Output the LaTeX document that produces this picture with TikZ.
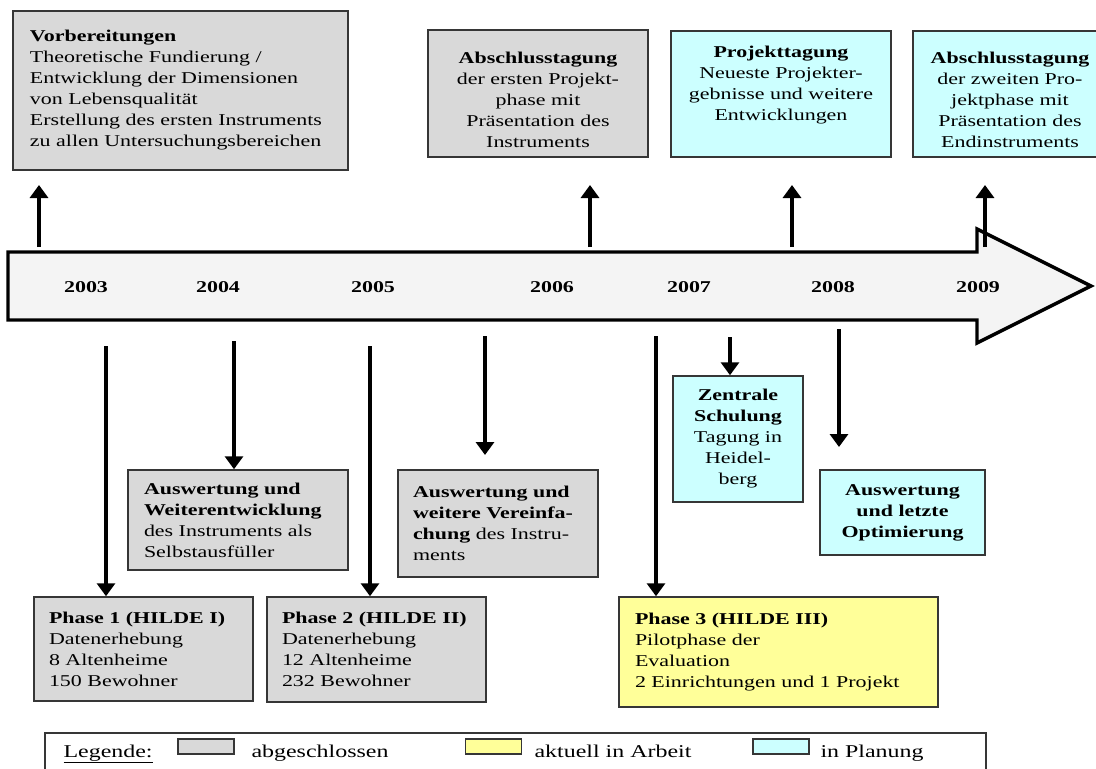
\documentclass[tikz,border=0pt]{standalone}
\usepackage{fontspec}
\setmainfont[FakeStretch=1.33]{Liberation Serif}
\usetikzlibrary{arrows.meta}
\definecolor{done}{HTML}{D9D9D9}
\definecolor{plan}{HTML}{CCFFFF}
\definecolor{work}{HTML}{FFFF99}
\definecolor{tlfill}{HTML}{F4F4F4}
\definecolor{boxline}{HTML}{363636}

\begin{document}
\begin{tikzpicture}[x=1pt,y=-1pt,>={Triangle[length=13pt,width=18pt]},
    box/.style={draw=boxline,line width=1.5pt,inner xsep=0pt,inner ysep=0pt,font=\fontsize{16.5}{21}\selectfont},
    lbox/.style={box,align=left},
    cbox/.style={box,align=center},
    pfeil/.style={->,line width=3.5pt},
    year/.style={font=\bfseries\fontsize{16.5}{20}\selectfont},
    legtext/.style={anchor=base west,font=\fontsize{18}{22}\selectfont},
    swatch/.style={draw=boxline,line width=1.2pt,minimum width=56pt,minimum height=15pt,inner sep=0pt}]
            \useasboundingbox (0,0) rectangle (1096,769);
            \clip (0,0) rectangle (1096,769);
            %%%%%%%%%%%%%%%%%%%%%%%%%%%%%%%%%%%%%%%%%% Zeitstrahl
            \draw[line width=3.4pt,fill=tlfill] (8,252) -- (977,252) -- (977,229) -- (1091,286)
                -- (977,343) -- (977,320) -- (8,320) -- cycle;
            \foreach \x/\j in {86/2003,218/2004,373/2005,552/2006,689/2007,833/2008,978/2009}
            {
                \node[year] (y\j) at (\x,287) {\j};
            }
            %%%%%%%%%%%%%%%%%%%%%%%%%%%%%%%%%%%%%%%%%% obere Kaesten
            \node[lbox,fill=done,minimum width=335,minimum height=159,text width=301] (vorb) at (180.5,90.5)
                {\textbf{Vorbereitungen}\\Theoretische Fundierung /\\Entwicklung der Dimensionen\\von Lebensqualität\\Erstellung des ersten Instruments\\zu allen Untersuchungsbereichen};
            \node[cbox,fill=done,minimum width=220,minimum height=127] (abs1) at (538,93.5)
                {\rule{0pt}{24pt}\textbf{Abschlusstagung}\\der ersten Projekt-\\phase mit\\Präsentation des\\Instruments};
            \node[cbox,fill=plan,minimum width=220,minimum height=126] (proj) at (781,94)
                {\textbf{Projekttagung}\\Neueste Projekter-\\gebnisse und weitere\\Entwicklungen\\~};
            \node[cbox,fill=plan,minimum width=194,minimum height=126] (abs2) at (1010,94)
                {\rule{0pt}{24pt}\textbf{Abschlusstagung}\\der zweiten Pro-\\jektphase mit\\Präsentation des\\Endinstruments};
            \foreach \n/\x in {1/39,2/590,3/792,4/985}
            {
                \coordinate (u\n) at (\x,247);
                \coordinate (u\n e) at (\x,185);
                \draw[pfeil] (u\n) -- (u\n e);
            }
            %%%%%%%%%%%%%%%%%%%%%%%%%%%%%%%%%%%%%%%%%% mittlere Kaesten
            \node[lbox,fill=done,minimum width=220,minimum height=100,text width=188] (ausw1) at (238,520)
                {\textbf{Auswertung und}\\\textbf{Weiterentwicklung}\\des Instruments als\\Selbstausfüller};
            \node[lbox,fill=done,minimum width=200,minimum height=107,text width=170] (ausw2) at (498,523.5)
                {\textbf{Auswertung und}\\\textbf{weitere Vereinfa-}\\\textbf{chung} des Instru-\\ments};
            \node[cbox,fill=plan,minimum width=130,minimum height=126] (zentr) at (738,439)
                {\textbf{Zentrale}\\\textbf{Schulung}\\Tagung in\\Heidel-\\berg};
            \node[cbox,fill=plan,minimum width=165,minimum height=85] (ausw3) at (902.5,512.5)
                {\textbf{Auswertung}\\\textbf{und letzte}\\\textbf{Optimierung}};
            %%%%%%%%%%%%%%%%%%%%%%%%%%%%%%%%%%%%%%%%%% Phasen
            \node[lbox,fill=done,minimum width=219,minimum height=104,text width=189] (ph1) at (143.5,649)
                {\textbf{Phase 1 (HILDE I)}\\Datenerhebung\\8 Altenheime\\150 Bewohner};
            \node[lbox,fill=done,minimum width=219,minimum height=105,text width=189] (ph2) at (376.5,649.5)
                {\textbf{Phase 2 (HILDE II)}\\Datenerhebung\\12 Altenheime\\232 Bewohner};
            \node[lbox,fill=work,minimum width=319,minimum height=110,text width=287] (ph3) at (778.5,652)
                {\textbf{Phase 3 (HILDE III)}\\Pilotphase der\\Evaluation\\2 Einrichtungen und 1 Projekt};
            \foreach \n/\x/\y in {1/106/346,2/234/341,3/370/346,4/485/336,5/656/336,6/730/337,7/839/329}
            {
                \coordinate (d\n) at (\x,\y);
            }
            \coordinate (d4e) at (485,455);
            \coordinate (d7e) at (839,447);
            \draw[pfeil] (d1) -- (d1 |- ph1.north);
            \draw[pfeil] (d2) -- (d2 |- ausw1.north);
            \draw[pfeil] (d3) -- (d3 |- ph2.north);
            \draw[pfeil] (d4) -- (d4e);
            \draw[pfeil] (d5) -- (d5 |- ph3.north);
            \draw[pfeil] (d6) -- (d6 |- zentr.north);
            \draw[pfeil] (d7) -- (d7e);
            %%%%%%%%%%%%%%%%%%%%%%%%%%%%%%%%%%%%%%%%%% Legende
            \draw[draw=boxline,line width=1.2pt] (45,733) rectangle (986,790);
            \node[legtext] (leg) at (60,757) {\underline{Legende:}};
            \node[swatch,fill=done] (s1) at (206,746.5) {};
            \node[legtext] (t1) at (248,757) {abgeschlossen};
            \node[swatch,fill=work] (s2) at (493.5,746.5) {};
            \node[legtext] (t2) at (531,757) {aktuell in Arbeit};
            \node[swatch,fill=plan] (s3) at (781,746.5) {};
            \node[legtext] (t3) at (817,757) {in Planung};
        \end{tikzpicture}
\end{document}
